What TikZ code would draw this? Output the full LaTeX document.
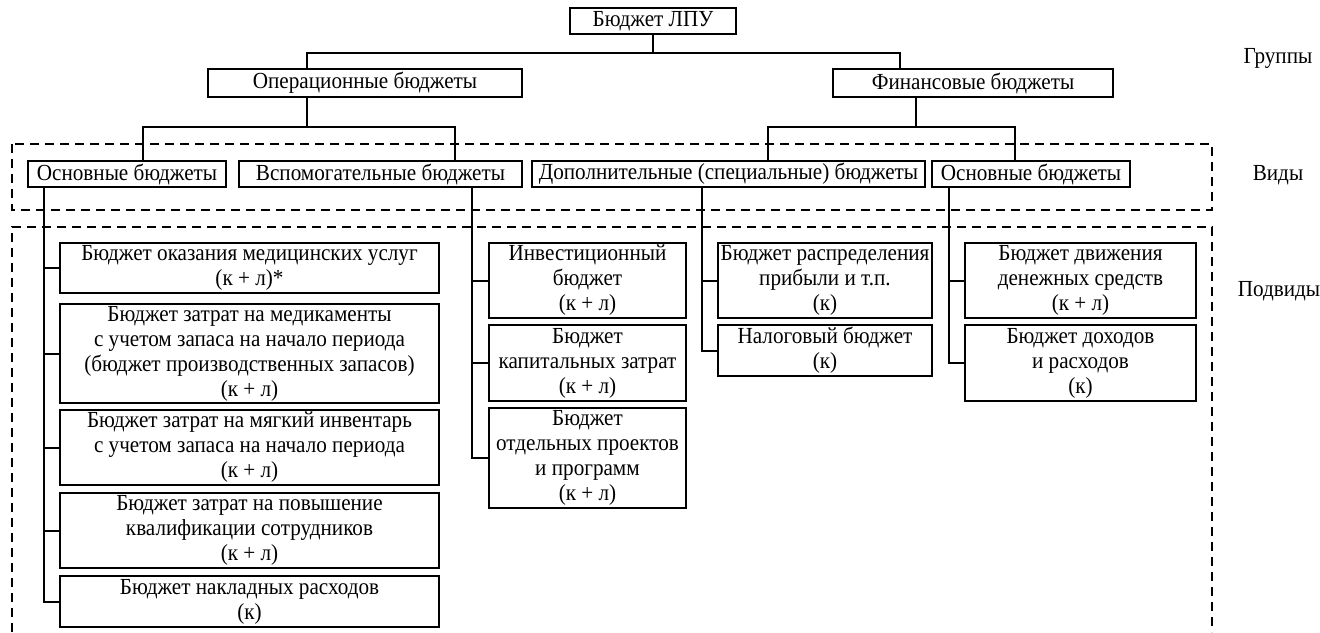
\documentclass[tikz,border=0pt]{standalone}
\usepackage{fontspec}
\setmainfont[FakeStretch=0.92]{Liberation Serif}
\tikzset{
	,x = 1pt
	,y = -1pt
	,font = \fontsize{23}{25}\selectfont
	,budget/.style = {draw=black, line width=2pt, align=center, inner sep=0pt, fill=white}
	,link/.style   = {-, line width=2pt}
	,zone/.style   = {line width=1.8pt, dash pattern=on 9pt off 6pt}
	,level/.style  = {align=center}
}
\begin{document}
\begin{tikzpicture}
		\useasboundingbox (0,0) rectangle (1320,632);
		% dashed frames
		\draw[zone] (12,144) rectangle (1212,210);
		\draw[zone] (12,632) -- (12,227) -- (1212,227) -- (1212,632);

		\node[budget, minimum width=166pt, minimum height=26pt] at (653.0, 21.0) (lpu)  {Бюджет ЛПУ};
		\node[budget, minimum width=314pt, minimum height=28pt] at (365.0, 83.0) (oper) {Операционные бюджеты};
		\node[budget, minimum width=280pt, minimum height=28pt] at (973.0, 83.0) (fin)  {Финансовые бюджеты};

		\node[budget, minimum width=198pt, minimum height=26pt] at (127.0, 174.0)  (osn)  {Основные бюджеты};
		\node[budget, minimum width=283pt, minimum height=26pt] at (380.5, 174.0)  (vsp)  {Вспомогательные бюджеты};
		\node[budget, minimum width=393pt, minimum height=26pt] at (728.5, 174.0)  (dop)  {Дополнительные (специальные) бюджеты};
		\node[budget, minimum width=198pt, minimum height=26pt] at (1031.0, 174.0) (osnf) {Основные бюджеты};

		\node[budget, minimum width=379pt, minimum height=50pt] at (249.5, 268.0) (a1) {Бюджет оказания медицинских услуг\\(к + л)*};
		\node[budget, minimum width=379pt, minimum height=99pt] at (249.5, 353.5) (a2) {Бюджет затрат на медикаменты\\с учетом запаса на начало периода\\(бюджет производственных запасов)\\(к + л)};
		\node[budget, minimum width=379pt, minimum height=75pt] at (249.5, 447.5) (a3) {Бюджет затрат на мягкий инвентарь\\с учетом запаса на начало периода\\(к + л)};
		\node[budget, minimum width=379pt, minimum height=75pt] at (249.5, 530.5) (a4) {Бюджет затрат на повышение\\квалификации сотрудников\\(к + л)};
		\node[budget, minimum width=379pt, minimum height=51pt] at (249.5, 601.5) (a5) {Бюджет накладных расходов\\(к)};

		\node[budget, minimum width=197pt, minimum height=75pt]  at (587.5, 280.5) (b1) {Инвестиционный\\бюджет\\(к + л)};
		\node[budget, minimum width=197pt, minimum height=76pt]  at (587.5, 363.0) (b2) {Бюджет\\капитальных затрат\\(к + л)};
		\node[budget, minimum width=197pt, minimum height=100pt] at (587.5, 458.0) (b3) {Бюджет\\отдельных проектов\\и программ\\(к + л)};

		\node[budget, minimum width=214pt, minimum height=75pt] at (825.0, 280.5) (c1) {Бюджет распределения\\прибыли и т.п.\\(к)};
		\node[budget, minimum width=214pt, minimum height=51pt] at (825.0, 350.5) (c2) {Налоговый бюджет\\(к)};

		\node[budget, minimum width=231pt, minimum height=75pt] at (1080.5, 280.5) (d1) {Бюджет движения\\денежных средств\\(к + л)};
		\node[budget, minimum width=231pt, minimum height=76pt] at (1080.5, 363.0) (d2) {Бюджет доходов\\и расходов\\(к)};

		\node[level] at (1278, 58)  (groups)   {Группы};
		\node[level] at (1278, 175) (kinds)    {Виды};
		\node[level] at (1279, 291) (subkinds) {Подвиды};

		% tree lines
		\coordinate (g1) at (307, 53);
		\coordinate (g2) at (900, 53);
		\coordinate (o1) at (143, 127);
		\coordinate (o2) at (455, 127);
		\coordinate (f0) at (916, 127);
		\coordinate (f1) at (768, 127);
		\coordinate (f2) at (1015, 127);
		\draw[link] (lpu.south) -- (lpu.south |- g1);
		\draw[link] (oper.north -| g1) -- (g1) -- (g2) -- (fin.north -| g2);
		\draw[link] (oper.south -| g1) -- (g1 |- o1);
		\draw[link] (osn.north -| o1) -- (o1) -- (o2) -- (vsp.north -| o2);
		\draw[link] (fin.south -| f0) -- (f0);
		\draw[link] (dop.north -| f1) -- (f1) -- (f2) -- (osnf.north -| f2);

		\coordinate (sa) at (44, 0);
		\coordinate (sb) at (472, 0);
		\coordinate (sc) at (702, 0);
		\coordinate (sd) at (949, 0);
		\draw[link] (osn.south -| sa)  |- (a5.west);
		\draw[link] (vsp.south -| sb)  |- (b3.west);
		\draw[link] (dop.south -| sc)  |- (c2.west);
		\draw[link] (osnf.south -| sd) |- (d2.west);
		\foreach \n in {a1, a2, a3, a4}
			\draw[link] (sa |- \n.west) -- (\n.west);
		\foreach \n in {b1, b2}
			\draw[link] (sb |- \n.west) -- (\n.west);
		\draw[link] (sc |- c1.west) -- (c1.west);
		\draw[link] (sd |- d1.west) -- (d1.west);
	\end{tikzpicture}
\end{document}
